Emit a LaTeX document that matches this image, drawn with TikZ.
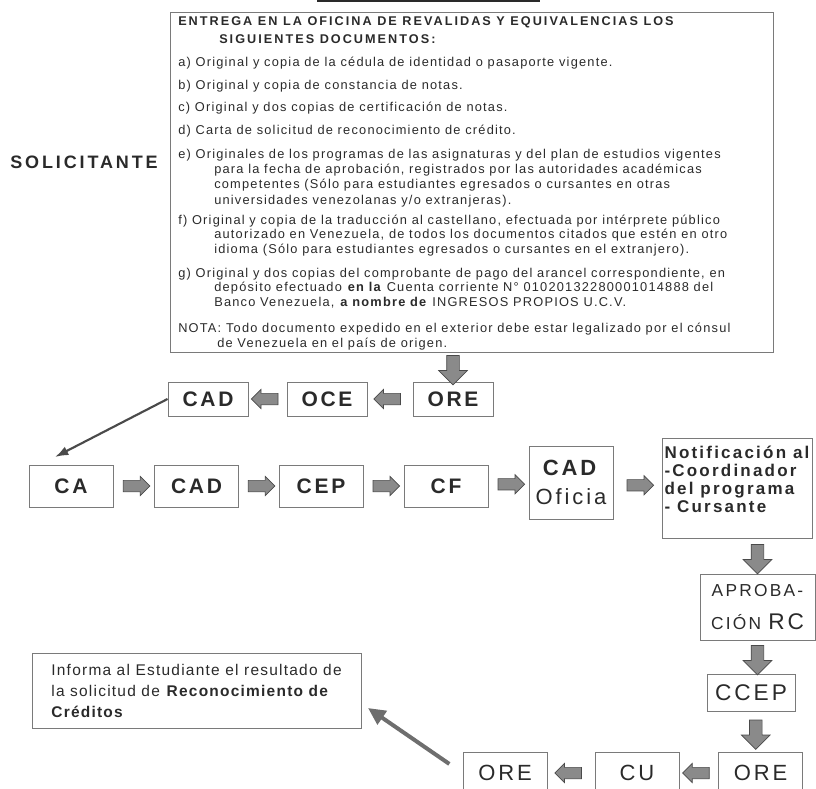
\documentclass[tikz,border=0pt]{standalone}
\usepackage{fontspec}
\setmainfont{Liberation Sans}
\newfontfamily\hdfont{Liberation Sans}[LetterSpace=16]
\newfontfamily\bodyfont{Liberation Sans}[LetterSpace=9.5]
\newfontfamily\lblfont{Liberation Sans}[LetterSpace=13]
\newfontfamily\infofont{Liberation Sans}[LetterSpace=8]
\usetikzlibrary{shapes.arrows,arrows.meta,calc}

\definecolor{inkc}{HTML}{2A2A2A}
\definecolor{boxline}{HTML}{7A7A7A}
\definecolor{arrfill}{HTML}{8A8A8A}
\definecolor{arrline}{HTML}{4A4A4A}

\tikzset{
  doctext/.style={anchor=base west, inner sep=0pt, text=inkc, font=\bodyfont\fontsize{9.6}{11}\selectfont},
  dochead/.style={doctext, font=\hdfont\bfseries\fontsize{9.5}{11}\selectfont},
  flowbox/.style={draw=boxline, line width=0.7pt, inner sep=0pt, text=inkc, align=center,
    font=\lblfont\bfseries\fontsize{15.75}{19}\selectfont},
  flowboxr/.style={flowbox, font=\lblfont\fontsize{16.5}{19}\selectfont},
  blockarr/.style={single arrow, draw=arrline, fill=arrfill, line width=0.5pt,
    inner xsep=0pt, inner ysep=4pt, single arrow head extend=3pt,
    single arrow head indent=0pt, minimum height=20pt},
  blockleft/.style={blockarr, rotate=180},
  blockdown/.style={blockarr, rotate=-90, inner ysep=4.5pt, single arrow head extend=6pt, minimum height=22pt},
  linkarr/.style={draw=arrline, line width=1.6pt, -{Latex[length=10pt,width=7pt]}},
  backarr/.style={draw=arrfill!80!black, line width=3pt, -{Triangle[length=13pt,width=12pt]}}
}

\begin{document}
\begin{tikzpicture}[x=0.75pt,y=0.75pt,yscale=-1,xscale=1]
\useasboundingbox (0,0) rectangle (816,788);
\clip (0,0) rectangle (816,788);

%Line: cut heading
\draw [color=inkc, line width=1.1pt] (317,1) -- (540,1) ;

%Text: applicant
\node [doctext, font=\hdfont\bfseries\fontsize{13.5}{16}\selectfont] (solic) at (10,168) {SOLICITANTE};

%Shape: documents box
\node [draw=boxline, line width=0.7pt, minimum width=452.25pt, minimum height=255pt, inner sep=0pt] (doc) at (471.5,182) {};
\node [dochead] (hd1) at (178,26) {ENTREGA EN LA OFICINA DE REVALIDAS Y EQUIVALENCIAS LOS};
\node [dochead] (hd2) at (219,44) {SIGUIENTES DOCUMENTOS:};
\node [doctext] (ia) at (178,67) {a) Original y copia de la cédula de identidad o pasaporte vigente.};
\node [doctext] (ib) at (178,90) {b) Original y copia de constancia de notas.};
\node [doctext] (ic) at (178,112) {c) Original y dos copias de certificación de notas.};
\node [doctext] (id) at (178,135) {d) Carta de solicitud de reconocimiento de crédito.};
\node [doctext] (ie1) at (178,158) {e) Originales de los programas de las asignaturas y del plan de estudios vigentes};
\node [doctext] (ie2) at (214,173) {para la fecha de aprobación, registrados por las autoridades académicas};
\node [doctext] (ie3) at (214,188) {competentes (Sólo para estudiantes egresados o cursantes en otras};
\node [doctext] (ie4) at (214,204) {universidades venezolanas y/o extranjeras).};
\node [doctext] (if1) at (178,224) {f) Original y copia de la traducción al castellano, efectuada por intérprete público};
\node [doctext] (if2) at (214,238) {autorizado en Venezuela, de todos los documentos citados que estén en otro};
\node [doctext] (if3) at (214,253) {idioma (Sólo para estudiantes egresados o cursantes en el extranjero).};
\node [doctext] (ig1) at (178,277) {g) Original y dos copias del comprobante de pago del arancel correspondiente, en};
\node [doctext] (ig2) at (214,291) {depósito efectuado \textbf{en la} Cuenta corriente N° 01020132280001014888 del};
\node [doctext] (ig3) at (214,306) {Banco Venezuela, \textbf{a nombre de} INGRESOS PROPIOS U.C.V.};
\node [doctext] (nt1) at (178,332) {NOTA: Todo documento expedido en el exterior debe estar legalizado por el cónsul};
\node [doctext] (nt2) at (217,347) {de Venezuela en el país de origen.};

%Row 1
\node [flowbox, minimum width=60pt, minimum height=25.5pt] (cadA) at (208,399) {CAD};
\node [flowbox, minimum width=60pt, minimum height=25.5pt] (oce) at (327,399) {OCE};
\node [flowbox, minimum width=60pt, minimum height=25.5pt] (oreA) at (453,399) {ORE};

%Row 2
\node [flowbox, minimum width=63pt, minimum height=31.5pt] (ca) at (71,486) {CA};
\node [flowbox, minimum width=63pt, minimum height=31.5pt] (cadB) at (196.5,486) {CAD};
\node [flowbox, minimum width=63pt, minimum height=31.5pt] (cep) at (321,486) {CEP};
\node [flowbox, minimum width=63pt, minimum height=31.5pt] (cf) at (446,486) {CF};
\node [flowbox, minimum width=63pt, minimum height=54.75pt, font=\lblfont\fontsize{16.5}{22}\selectfont] (cado) at (571,482.5) {\textbf{CAD}\\Oficia};
\node [flowbox, minimum width=112.5pt, minimum height=75pt, align=left, font=\lblfont\bfseries\fontsize{12.75}{13.5}\selectfont] (notif) at (737,488) {Notificación al\\-Coordinador\\del programa\\- Cursante\\\mbox{}};

%Right column
\node [flowbox, minimum width=86.25pt, minimum height=49.5pt, font=\lblfont\fontsize{13}{25}\selectfont] (aprob) at (757.5,607) {APROBA-\\CIÓN {\fontsize{17}{19}\selectfont RC}};
\node [flowboxr, minimum width=66pt, minimum height=27.75pt, font=\lblfont\fontsize{17}{19}\selectfont] (ccep) at (751,692.5) {CCEP};

%Row 3
\node [flowboxr, minimum width=63pt, minimum height=31.5pt] (oreR) at (760.5,773) {ORE};
\node [flowboxr, minimum width=63pt, minimum height=31.5pt] (cu) at (637,773) {CU};
\node [flowboxr, minimum width=63pt, minimum height=31.5pt] (oreL) at (505,773) {ORE};

%Result box
\node [flowbox, minimum width=246.75pt, minimum height=56.25pt, align=left, font=\infofont\fontsize{11.6}{15.75}\selectfont] (info) at (196.5,690.5) {Informa al Estudiante el resultado de\\la solicitud de \textbf{Reconocimiento de}\\\textbf{Créditos}};

%Block arrows
\node [blockdown] (a0) at ($(oreA.north)!.5!(oreA.north|-doc.south)$) {};
\node [blockleft] (a1) at ($(oreA.west)!.5!(oce.east)$) {};
\node [blockleft] (a2) at ($(oce.west)!.5!(cadA.east)$) {};
\node [blockarr] (a3) at ($(ca.east)!.5!(cadB.west)$) {};
\node [blockarr] (a4) at ($(cadB.east)!.5!(cep.west)$) {};
\node [blockarr] (a5) at ($(cep.east)!.5!(cf.west)$) {};
\node [blockarr] (a6) at ($(cf.east)!.5!(cado.west)$) {};
\node [blockarr] (a7) at ($(cado.east)!.5!(notif.west)$) {};
\node [blockdown] (a8) at ($(aprob.north)!.5!(aprob.north|-notif.south)$) {};
\node [blockdown] (a9) at ($(aprob.south)!.5!(aprob.south|-ccep.north)$) {};
\node [blockdown] (a10) at ($(ccep.south)!.5!(oreR.north)$) {};
\node [blockleft] (a11) at ($(oreR.west)!.5!(cu.east)$) {};
\node [blockleft] (a12) at ($(cu.west)!.5!(oreL.east)$) {};

%Line arrows
\coordinate (catip) at (55,457);
\coordinate (infotip) at (368,708);
\draw [linkarr] (cadA.west) -- (catip);
\draw [backarr, shorten <=12pt] (oreL.west) -- (infotip);

\end{tikzpicture}
\end{document}
